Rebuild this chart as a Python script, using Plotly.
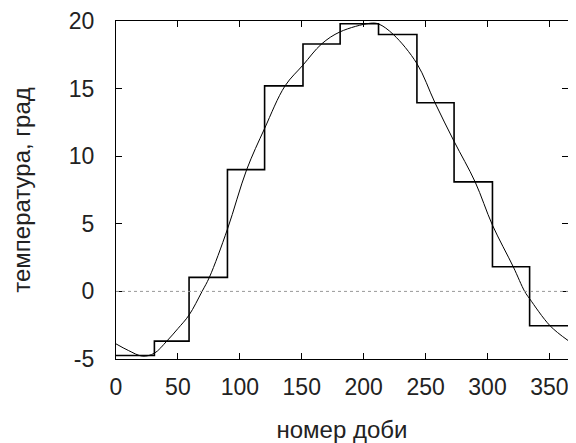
import plotly.graph_objects as go

# Monthly step values (temperature, degrees)
month_edges = [0, 31, 59, 90, 120, 151, 181, 212, 243, 273, 304, 334, 365]
month_temps = [-4.74, -3.68, 1.04, 9.01, 15.2, 18.3, 19.8, 19.0, 13.95, 8.1, 1.82, -2.54]

# Smooth fitted curve
curve_days = [0, 10, 21.5, 31, 41, 50, 59, 69.5, 75.4, 90, 105.5, 120, 136.5,
              151, 166, 181, 205, 212, 224, 243, 257.6, 273, 290, 304, 320.8, 330,
              334, 350.5, 365]
curve_temps = [-3.88, -4.37, -4.79, -4.57, -3.68, -2.75, -1.75, 0.0, 1.04, 4.6, 9.0,
               12.05, 15.2, 16.74, 18.3, 19.2, 19.83, 19.78, 19.0, 16.85, 13.95,
               11.1, 8.1, 4.9, 1.82, 0.0, -0.54, -2.54, -3.63]

x_ticks = [0, 50, 100, 150, 200, 250, 300, 350]
x_tick_labels = ["0", "50", "100", "150", "200", "250", "300", "350"]
y_ticks = [-5, 0, 5, 10, 15, 20]
y_tick_labels = ["-5", "0", "5", "10", "15", "20"]

FONT = "Liberation Sans"
TXT = "#222222"

fig = go.Figure()

fig.add_hline(y=0, line=dict(color="#999999", width=1, dash="dot"))

fig.add_trace(go.Scatter(
    x=month_edges, y=month_temps + [month_temps[-1]],
    mode="lines", line=dict(color="black", width=1.6, shape="hv"),
    showlegend=False, hoverinfo="skip"))

fig.add_trace(go.Scatter(
    x=curve_days, y=curve_temps,
    mode="lines", line=dict(color="black", width=1, shape="spline", smoothing=1.0),
    showlegend=False, hoverinfo="skip"))

axis_common = dict(
    showline=True, linecolor="black", linewidth=1.3, mirror="ticks",
    ticks="inside", ticklen=6, tickcolor="black", tickwidth=1,
    showgrid=False, zeroline=False, automargin=False,
    tickfont=dict(family=FONT, size=23, color=TXT),
)

fig.update_xaxes(range=[0, 365], tickvals=x_ticks, ticktext=x_tick_labels,
                 ticklabelstandoff=7,
                 title=dict(text="номер доби", font=dict(family=FONT, size=24, color=TXT),
                            standoff=26),
                 **axis_common)
fig.update_yaxes(range=[-5, 20], tickvals=y_ticks, ticktext=y_tick_labels,
                 ticklabelstandoff=16,
                 title=dict(text="температура, град", font=dict(family=FONT, size=24, color=TXT),
                            standoff=31),
                 **axis_common)

# page body adds an 8px offset; compensate so the plot box lands at 116..568 x 21..359
fig.update_layout(
    width=568, height=435,
    margin=dict(l=108, r=8, t=13, b=84),
    paper_bgcolor="white", plot_bgcolor="white",
    font=dict(family=FONT, size=23, color=TXT),
)

fig.write_html("out.html")
